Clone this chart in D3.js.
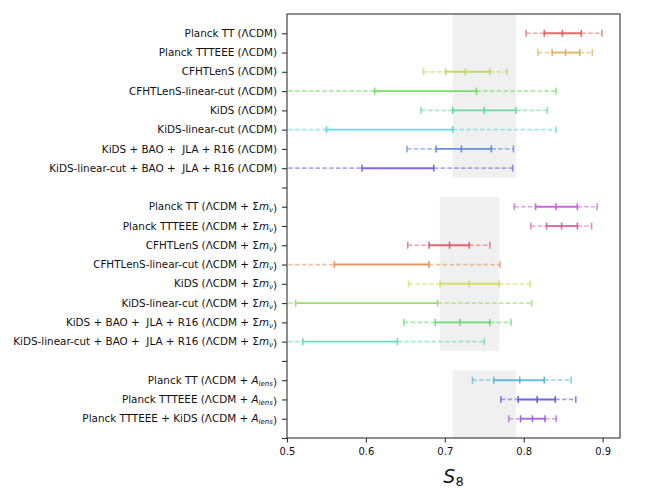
<!DOCTYPE html>
<html lang="en">
<head>
    <meta charset="UTF-8">
    <title>S8 constraints</title>
    <script src="https://d3js.org/d3.v7.min.js"></script>
    <style>
        body { margin: 0; background: #fff; }
        svg text { font-family: "DejaVu Sans", sans-serif; fill: #111; }
    </style>
</head>
<body>
    <div id="chart"></div>
    <script>
        // Row labels, top to bottom ("" = empty tick between groups)
        const rowLabels = [
            "Planck TT (ΛCDM)",
            "Planck TTTEEE (ΛCDM)",
            "CFHTLenS (ΛCDM)",
            "CFHTLenS-linear-cut (ΛCDM)",
            "KiDS (ΛCDM)",
            "KiDS-linear-cut (ΛCDM)",
            "KiDS + BAO +  JLA + R16 (ΛCDM)",
            "KiDS-linear-cut + BAO +  JLA + R16 (ΛCDM)",
            "",
            "Planck TT (ΛCDM + Σmν)",
            "Planck TTTEEE (ΛCDM + Σmν)",
            "CFHTLenS (ΛCDM + Σmν)",
            "CFHTLenS-linear-cut (ΛCDM + Σmν)",
            "KiDS (ΛCDM + Σmν)",
            "KiDS-linear-cut (ΛCDM + Σmν)",
            "KiDS + BAO +  JLA + R16 (ΛCDM + Σmν)",
            "KiDS-linear-cut + BAO +  JLA + R16 (ΛCDM + Σmν)",
            "",
            "Planck TT (ΛCDM + Alens)",
            "Planck TTTEEE (ΛCDM + Alens)",
            "Planck TTTEEE + KiDS (ΛCDM + Alens)",
            ""
        ];
        // 2-sigma low, 1-sigma low, centre, 1-sigma high, 2-sigma high
        const lo2 = [0.803, 0.818, 0.673, 0.45, 0.670, 0.45, 0.652, 0.45, null,
                     0.788, 0.809, 0.653, 0.45, 0.654, 0.45, 0.648, 0.45, null,
                     0.735, 0.771, 0.781, null];
        const lo1 = [0.826, 0.836, 0.701, 0.611, 0.710, 0.550, 0.689, 0.595, null,
                     0.815, 0.829, 0.680, 0.560, 0.694, 0.511, 0.688, 0.520, null,
                     0.762, 0.793, 0.796, null];
        const mid = [0.849, 0.853, 0.726, null, 0.750, null, 0.721, null, null,
                     0.841, 0.848, 0.706, null, 0.731, null, 0.719, null, null,
                     0.795, 0.817, 0.811, null];
        const hi1 = [0.873, 0.871, 0.757, 0.740, 0.790, 0.710, 0.759, 0.686, null,
                     0.868, 0.868, 0.731, 0.680, 0.769, 0.691, 0.757, 0.640, null,
                     0.826, 0.840, 0.827, null];
        const hi2 = [0.899, 0.887, 0.779, 0.841, 0.830, 0.841, 0.787, 0.786, null,
                     0.893, 0.886, 0.757, 0.770, 0.808, 0.810, 0.784, 0.750, null,
                     0.860, 0.866, 0.841, null];
        const rowColors = ["#db5f57", "#dbae57", "#b9db57", "#69db57", "#57db94", "#57d3db", "#5784db", "#7957db", null,
                           "#c957db", "#db579e", "#db5765", "#db8f57", "#d2db57", "#8ddb57", "#57db6a", "#57dbab", null,
                           "#57b4db", "#5a57db", "#a157db", null];
        // grey bands in data units
        const bandX0 = [0.71, 0.6935, 0.71];
        const bandX1 = [0.79, 0.769, 0.79];
        const bandYlo = [13.5, 4.5, 0];
        const bandYhi = [22, 12.5, 3.5];
        const xTicks = [0.5, 0.6, 0.7, 0.8, 0.9];

        const width = 665, height = 489;
        const margin = {top: 14, right: 45, bottom: 51, left: 287};

        const svg = d3.select("#chart").append("svg")
            .attr("width", width)
            .attr("height", height);

        const x = d3.scaleLinear().domain([0.5, 0.922])
            .range([margin.left, width - margin.right]);
        const nRows = rowLabels.length;
        const y = d3.scaleLinear().domain([0, nRows])
            .range([height - margin.bottom, margin.top]);
        const rowY = i => y(nRows - 1 - i);

        svg.append("defs").append("clipPath").attr("id", "plot-clip")
            .append("rect")
            .attr("x", margin.left).attr("y", margin.top)
            .attr("width", width - margin.left - margin.right)
            .attr("height", height - margin.top - margin.bottom);

        // shaded bands
        svg.append("g").selectAll("rect")
            .data(bandX0)
            .join("rect")
            .attr("x", d => x(d))
            .attr("width", (d, i) => x(bandX1[i]) - x(d))
            .attr("y", (d, i) => y(bandYhi[i]))
            .attr("height", (d, i) => y(bandYlo[i]) - y(bandYhi[i]))
            .attr("fill", "#f0f0f0");

        // error bars
        const bars = svg.append("g").attr("clip-path", "url(#plot-clip)");
        rowLabels.forEach((lab, i) => {
            if (!lab) return;
            const c = rowColors[i];
            const yy = rowY(i);
            const g = bars.append("g");
            // dashed 2-sigma parts
            [[lo2[i], lo1[i]], [hi1[i], hi2[i]]].forEach(seg => {
                g.append("line")
                    .attr("x1", x(seg[0])).attr("x2", x(seg[1]))
                    .attr("y1", yy).attr("y2", yy)
                    .attr("stroke", c).attr("stroke-opacity", 0.55)
                    .attr("stroke-width", 1.7)
                    .attr("stroke-dasharray", "4.5,2.3");
            });
            // solid 1-sigma part
            g.append("line")
                .attr("x1", x(lo1[i])).attr("x2", x(hi1[i]))
                .attr("y1", yy).attr("y2", yy)
                .attr("stroke", c).attr("stroke-opacity", 0.9)
                .attr("stroke-width", 1.9);
            // caps
            const caps = [lo2[i], lo1[i], mid[i], hi1[i], hi2[i]];
            caps.forEach((v, k) => {
                if (v === null) return;
                g.append("line")
                    .attr("x1", x(v)).attr("x2", x(v))
                    .attr("y1", yy - 3.5).attr("y2", yy + 3.5)
                    .attr("stroke", c)
                    .attr("stroke-opacity", (k === 0 || k === 4) ? 0.7 : 0.9)
                    .attr("stroke-width", 1.6);
            });
        });

        // frame
        svg.append("rect")
            .attr("x", margin.left).attr("y", margin.top)
            .attr("width", width - margin.left - margin.right)
            .attr("height", height - margin.top - margin.bottom)
            .attr("fill", "none").attr("stroke", "#333").attr("stroke-width", 1.1);

        // x axis
        const xAxis = svg.append("g")
            .attr("transform", `translate(0,${height - margin.bottom})`)
            .call(d3.axisBottom(x).tickValues(xTicks).tickFormat(d3.format(".1f")).tickSize(4.5).tickPadding(5));
        xAxis.select(".domain").remove();
        xAxis.selectAll("line").attr("stroke", "#333").attr("stroke-width", 1.1);
        xAxis.selectAll("text").attr("font-size", "10px").attr("font-family", "DejaVu Sans").attr("fill", "#111");

        // y axis ticks (labels drawn separately for mathtext parts)
        const yAxis = svg.append("g")
            .attr("transform", `translate(${margin.left},0)`)
            .call(d3.axisLeft(y).tickValues(d3.range(nRows)).tickFormat("").tickSize(5));
        yAxis.select(".domain").remove();
        yAxis.selectAll("line").attr("stroke", "#333").attr("stroke-width", 1.1);

        const labelG = svg.append("g");
        rowLabels.forEach((lab, i) => {
            if (!lab) return;
            const t = labelG.append("text")
                .attr("x", margin.left - 10)
                .attr("y", rowY(i))
                .attr("dy", "0.35em")
                .attr("text-anchor", "end")
                .attr("font-size", "10.4px")
                .style("white-space", "pre");
            lab.split(/(Σmν|Alens)/).forEach(part => {
                if (part === "Σmν") {
                    t.append("tspan").text("Σ");
                    t.append("tspan").attr("font-style", "italic").text("m");
                    t.append("tspan").attr("font-style", "italic").attr("font-size", "7px").attr("dy", "2").text("ν");
                    t.append("tspan").attr("dy", "-2").text("");
                } else if (part === "Alens") {
                    t.append("tspan").attr("font-style", "italic").text("A");
                    t.append("tspan").attr("font-style", "italic").attr("font-size", "7px").attr("dy", "2").text("lens");
                    t.append("tspan").attr("dy", "-2").text("");
                } else if (part) {
                    t.append("tspan").text(part);
                }
            });
        });

        // x label S_8
        const xl = svg.append("text")
            .attr("x", (margin.left + width - margin.right) / 2)
            .attr("y", 483)
            .attr("text-anchor", "middle")
            .attr("font-size", "19px");
        xl.append("tspan").attr("font-style", "italic").text("S");
        xl.append("tspan").attr("font-size", "13px").attr("dy", "3").text("8");
    </script>
</body>
</html>
